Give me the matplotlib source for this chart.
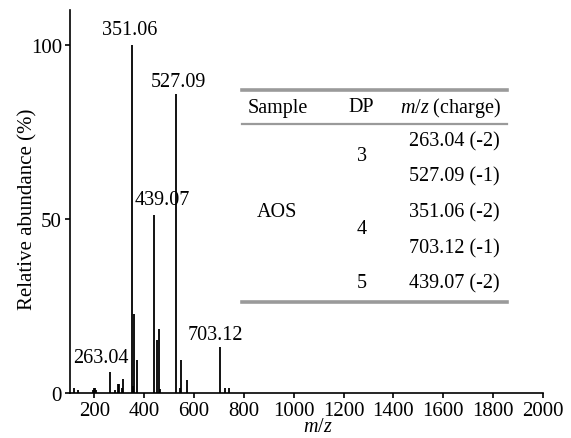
"""
Mass spectrum of AOS (alginate oligosaccharides) with an inset table of
the assigned DP / m/z (charge) values.
"""

import matplotlib
matplotlib.use("Agg")
import matplotlib.pyplot as plt
from matplotlib.lines import Line2D

# ------------------------------------------------------------------
# Data
# ------------------------------------------------------------------
peak_mz = [120, 134, 194, 198, 202, 207, 263.04, 283, 294, 300, 311, 316,
           351.06, 354, 360, 370, 439.07, 450, 458, 464, 527.09, 544, 548,
           571, 703.12, 725, 741]
peak_int = [1.4, 0.8, 1.0, 1.4, 1.3, 1.0, 6.0, 0.8, 2.6, 2.6, 1.5, 4.0,
            100, 2.0, 22.8, 9.5, 51, 15.2, 18.3, 1.2, 86, 1.5, 9.4,
            3.6, 13.2, 1.5, 1.5]

label_text = ["351.06", "527.09", "439.07", "263.04", "703.12"]
label_x = [340, 538, 474, 227, 687]
label_y = [103, 88.2, 54.2, 8.8, 15.4]

table_cols = ["Sample", "DP", r"$\mathit{m/z}$ (charge)"]
table_sample = "AOS"
table_dp = ["3", "4", "5"]
table_mz = ["263.04 (-2)", "527.09 (-1)", "351.06 (-2)", "703.12 (-1)",
            "439.07 (-2)"]

# ------------------------------------------------------------------
# Style
# ------------------------------------------------------------------
plt.rcParams["font.family"] = ["Liberation Serif", "DejaVu Serif"]
plt.rcParams["mathtext.fontset"] = "custom"
plt.rcParams["mathtext.it"] = "Liberation Serif:italic"
plt.rcParams["mathtext.rm"] = "Liberation Serif"
FS = 14.5
W, H = 571, 439

fig = plt.figure(figsize=(W / 100, H / 100), dpi=100)
ax = fig.add_axes([69.5 / W, 1 - 394 / H, (543 - 69.5) / W, (394 - 11) / H])

ax.vlines(peak_mz, 0, peak_int, colors="black", linewidth=1.3)
for t, x, y in zip(label_text, label_x, label_y):
    ax.text(x, y, t, ha="center", va="baseline", fontsize=FS)

ax.set_xlim(100, 2000)
ax.set_ylim(0, 110)
ax.set_xticks(range(200, 2001, 200))
ax.set_yticks([0, 50, 100])
ax.spines["top"].set_visible(False)
ax.spines["right"].set_visible(False)
for s in ("left", "bottom"):
    ax.spines[s].set_linewidth(1.2)
ax.tick_params(direction="out", length=3.5, width=1.2, labelsize=15, pad=2)

ax.set_xlabel(r"$\mathit{m/z}$", fontsize=FS, labelpad=0)
ax.xaxis.set_label_coords((318 - 69.5) / (543 - 69.5), -(428 - 394) / (394 - 11))
ax.xaxis.label.set_va("center")
ax.set_ylabel("Relative abundance (%)", fontsize=15, labelpad=2)
ax.yaxis.set_label_coords(-(69.5 - 28) / (543 - 69.5), (394 - 209) / (394 - 11))
ax.yaxis.label.set_va("center")


# ------------------------------------------------------------------
# Inset table, placed in pixel coordinates of the figure
# ------------------------------------------------------------------
def fx(px):
    return px / W


def fy(py):
    return 1 - py / H


def rule(y, lw):
    fig.add_artist(Line2D([fx(242), fx(507)], [fy(y), fy(y)],
                          color="#9a9a9a", linewidth=lw,
                          transform=fig.transFigure))


rule(91, 2.6)
rule(124.5, 1.6)
rule(303, 2.6)

for t, x in zip(table_cols, [278, 361.5, 451]):
    fig.text(fx(x), fy(108), t, ha="center", va="center", fontsize=FS)

fig.text(fx(277), fy(212.5), table_sample, ha="center", va="center",
         fontsize=FS)
for t, y in zip(table_dp, [157, 230, 284]):
    fig.text(fx(361.5), fy(y), t, ha="center", va="center", fontsize=FS)
for t, y in zip(table_mz, [141.5, 177, 212.5, 248.5, 284]):
    fig.text(fx(500), fy(y), t, ha="right", va="center", fontsize=FS)

fig.savefig("out.png", dpi=100)
